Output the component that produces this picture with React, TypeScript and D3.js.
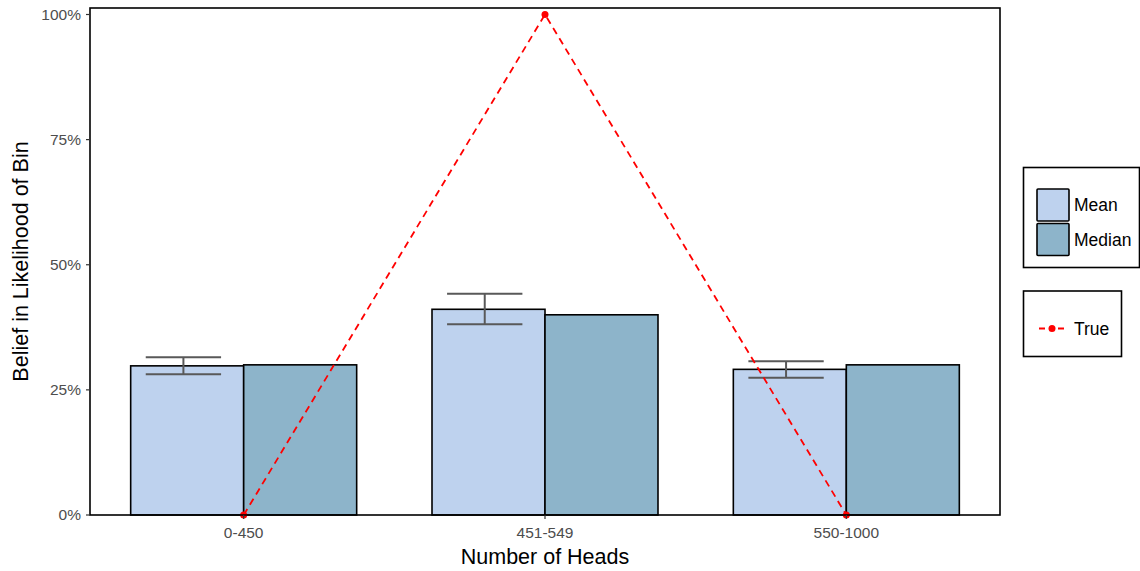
import React from "react";
import * as d3 from "d3";

const categories = ["0-450", "451-549", "550-1000"];
const meanValues = [29.8, 41.1, 29.1];
const medianValues = [30, 40, 30];
const errLower = [28.1, 38.1, 27.4];
const errUpper = [31.5, 44.2, 30.7];
const trueValues = [0, 100, 0];
const yTicks = [0, 25, 50, 75, 100];

const W = 1140, H = 571;
const panel = { left: 90, right: 1000, top: 8, bottom: 515 };
const MEAN_FILL = "#BED2EE";
const MEDIAN_FILL = "#8DB4CA";
const FONT = "'Liberation Sans', Arial, Helvetica, sans-serif";

export default function App() {
  const x = d3.scalePoint<string>().domain(categories).range([panel.left, panel.right]).padding(0.51);
  const step = x.step();
  const barW = step * 0.375;
  const y = d3.scaleLinear().domain([0, 100]).range([panel.bottom, 14.5]);
  const line = d3.line<number>().x((_, i) => x(categories[i])!).y((d) => y(d));
  const errHalf = step * 0.125;
  const errOff = -step * 0.2;

  return (
    <svg width={W} height={H} style={{ position: "absolute", left: 0, top: 0, background: "#fff" }} fontFamily={FONT}>
      <rect x={0} y={0} width={W} height={H} fill="#fff" />
      {/* bars */}
      {categories.map((c, i) => {
        const cx = x(c)!;
        return (
          <g key={c}>
            <rect x={cx - barW} y={y(meanValues[i])} width={barW} height={y(0) - y(meanValues[i])} fill={MEAN_FILL} stroke="#000" strokeWidth={1.6} />
            <rect x={cx} y={y(medianValues[i])} width={barW} height={y(0) - y(medianValues[i])} fill={MEDIAN_FILL} stroke="#000" strokeWidth={1.6} />
          </g>
        );
      })}
      {/* error bars */}
      {categories.map((c, i) => {
        const ex = x(c)! + errOff;
        return (
          <g key={"e" + c} stroke="#595959" strokeWidth={2}>
            <line x1={ex - errHalf} x2={ex + errHalf} y1={y(errUpper[i])} y2={y(errUpper[i])} />
            <line x1={ex - errHalf} x2={ex + errHalf} y1={y(errLower[i])} y2={y(errLower[i])} />
            <line x1={ex} x2={ex} y1={y(errUpper[i])} y2={y(errLower[i])} />
          </g>
        );
      })}
      {/* true line */}
      <path d={line(trueValues)!} fill="none" stroke="#FF0000" strokeWidth={1.8} strokeDasharray="7,5" />
      {trueValues.map((v, i) => (
        <circle key={"p" + i} cx={x(categories[i])!} cy={y(v)} r={3.5} fill="#FF0000" />
      ))}
      {/* panel border */}
      <rect x={panel.left} y={panel.top} width={panel.right - panel.left} height={panel.bottom - panel.top} fill="none" stroke="#000" strokeWidth={1.6} />
      {/* y axis */}
      {yTicks.map((t) => (
        <g key={"y" + t}>
          <line x1={panel.left - 4} x2={panel.left} y1={y(t)} y2={y(t)} stroke="#333" strokeWidth={1.2} />
          <text x={panel.left - 9} y={y(t)} dy="0.35em" textAnchor="end" fontSize={15.5} fill="#4D4D4D">{t + "%"}</text>
        </g>
      ))}
      {/* x axis */}
      {categories.map((c) => (
        <g key={"x" + c}>
          <line x1={x(c)!} x2={x(c)!} y1={panel.bottom} y2={panel.bottom + 4} stroke="#333" strokeWidth={1.2} />
          <text x={x(c)!} y={panel.bottom + 23} textAnchor="middle" fontSize={15.5} fill="#4D4D4D">{c}</text>
        </g>
      ))}
      <text x={(panel.left + panel.right) / 2} y={563.5} textAnchor="middle" fontSize={21.5} fill="#000">Number of Heads</text>
      <text transform={`translate(28,${(panel.top + panel.bottom) / 2}) rotate(-90)`} textAnchor="middle" fontSize={21.5} fill="#000">Belief in Likelihood of Bin</text>
      {/* legend 1 */}
      <rect x={1023.5} y={167.5} width={116} height={100} fill="#fff" stroke="#000" strokeWidth={1.6} />
      <rect x={1037} y={189} width={32} height={32} fill={MEAN_FILL} stroke="#000" strokeWidth={1.6} rx={1} />
      <rect x={1037} y={223.5} width={32} height={32} fill={MEDIAN_FILL} stroke="#000" strokeWidth={1.6} rx={1} />
      <text x={1074} y={205} dy="0.35em" fontSize={17.5} fill="#000">Mean</text>
      <text x={1074} y={240} dy="0.35em" fontSize={17.5} fill="#000">Median</text>
      {/* legend 2 */}
      <rect x={1023.5} y={291} width={98} height={65.5} fill="#fff" stroke="#000" strokeWidth={1.6} />
      <line x1={1039} x2={1064} y1={328.5} y2={328.5} stroke="#FF0000" strokeWidth={1.8} strokeDasharray="6,1,0,12,6,100" />
      <circle cx={1052} cy={328.5} r={3.5} fill="#FF0000" />
      <text x={1074} y={328.5} dy="0.35em" fontSize={17.5} fill="#000">True</text>
    </svg>
  );
}
